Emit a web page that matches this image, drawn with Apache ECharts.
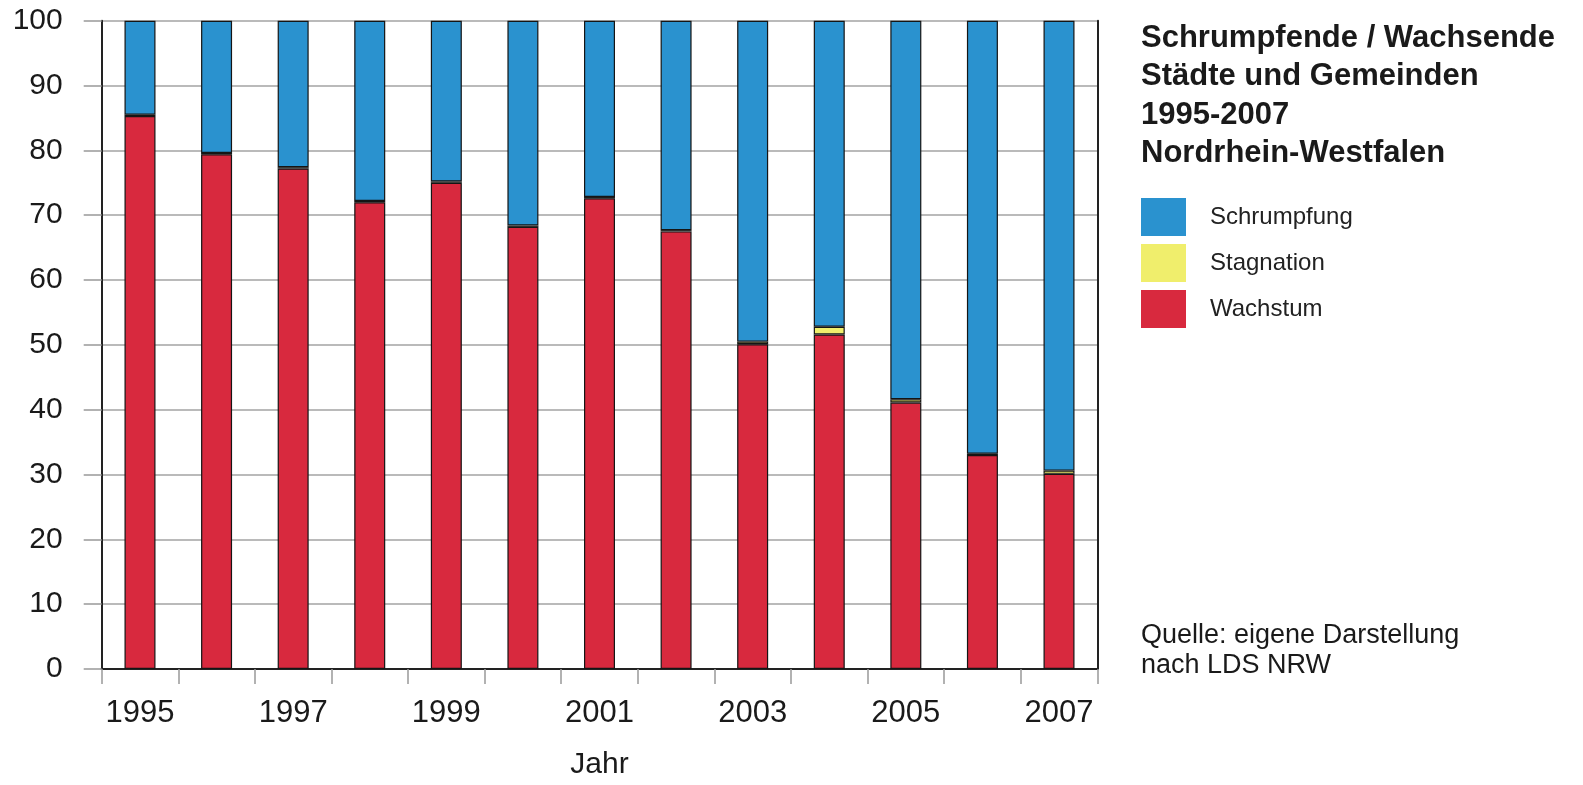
<!DOCTYPE html>
<html>
<head>
<meta charset="utf-8">
<script src="https://cdn.jsdelivr.net/npm/echarts@6/dist/echarts.min.js"></script>
<style>
  html, body { margin: 0; padding: 0; background: #fff; }
  #chart { width: 1583px; height: 785px; }
</style>
</head>
<body>
<div id="chart"></div>
<script>
const years = ['1995', '1996', '1997', '1998', '1999', '2000', '2001', '2002', '2003', '2004', '2005', '2006', '2007']
const wachstum = [85.3, 79.4, 77.2, 72.0, 75.0, 68.2, 72.6, 67.5, 50.1, 51.6, 41.1, 33.0, 30.1]
const stagnation = [0.2, 0.2, 0.2, 0.2, 0.2, 0.2, 0.2, 0.2, 0.4, 1.2, 0.5, 0.2, 0.5]
const schrumpfung = [14.5, 20.4, 22.6, 27.8, 24.8, 31.6, 27.2, 32.3, 49.5, 47.2, 58.4, 66.8, 69.4]

const font = "'Liberation Sans', Arial, Helvetica, sans-serif"
const frame = { show: true, lineStyle: { color: '#222', width: 2 } }
const barBorder = { borderColor: '#151515', borderWidth: 1.2 }

const chart = echarts.init(document.getElementById('chart'))
chart.setOption({
  animation: false,
  textStyle: { fontFamily: font },
  title: [
    {
      text: 'Schrumpfende / Wachsende\nStädte und Gemeinden\n1995-2007\nNordrhein-Westfalen',
      left: 1136, top: 14,
      textStyle: { fontFamily: font, fontSize: 31, fontWeight: 'bold', color: '#1a1a1a', lineHeight: 38.5 }
    },
    {
      text: 'Quelle: eigene Darstellung\nnach LDS NRW',
      left: 1136, top: 616,
      textStyle: { fontFamily: font, fontSize: 27, fontWeight: 'normal', color: '#1a1a1a', lineHeight: 30 }
    }
  ],
  legend: {
    data: ['Schrumpfung', 'Stagnation', 'Wachstum'],
    orient: 'vertical',
    left: 1136, top: 193,
    icon: 'rect',
    itemWidth: 45, itemHeight: 38, itemGap: 8,
    itemStyle: { borderWidth: 0 },
    textStyle: { fontFamily: font, fontSize: 24, color: '#222', padding: [0, 0, 0, 19] }
  },
  grid: { left: 101.7, right: 485.7, top: 20.7, bottom: 113.3 },
  xAxis: [
    {
      type: 'category',
      data: years,
      name: 'Jahr',
      nameLocation: 'middle',
      nameGap: 81,
      nameTextStyle: { fontFamily: font, fontSize: 30, color: '#1a1a1a' },
      axisLine: frame,
      axisTick: { show: true, interval: 0, length: 15, lineStyle: { color: '#999', width: 1.5 } },
      axisLabel: { interval: 1, margin: 29, fontFamily: font, fontSize: 31, color: '#1a1a1a' }
    },
    {
      type: 'category', position: 'top', data: years,
      axisLine: frame, axisTick: { show: false }, axisLabel: { show: false }
    }
  ],
  yAxis: [
    {
      type: 'value', min: 0, max: 100, interval: 10,
      axisLine: frame,
      axisTick: { show: true, length: 18, lineStyle: { color: '#999', width: 1.5 } },
      axisLabel: { margin: 39, fontFamily: font, fontSize: 30, color: '#1a1a1a' },
      splitLine: { lineStyle: { color: '#a3a3a3', width: 1.5 } }
    },
    {
      type: 'value', position: 'right', min: 0, max: 100, interval: 10,
      axisLine: frame, axisTick: { show: false }, axisLabel: { show: false }, splitLine: { show: false }
    }
  ],
  series: [
    { name: 'Wachstum', type: 'bar', stack: 'total', barWidth: 31, data: wachstum, itemStyle: { color: '#d8293e', ...barBorder } },
    { name: 'Stagnation', type: 'bar', stack: 'total', barWidth: 31, data: stagnation, itemStyle: { color: '#f0ee6c', ...barBorder } },
    { name: 'Schrumpfung', type: 'bar', stack: 'total', barWidth: 31, data: schrumpfung, itemStyle: { color: '#2a92cf', ...barBorder } }
  ]
})
</script>
</body>
</html>
